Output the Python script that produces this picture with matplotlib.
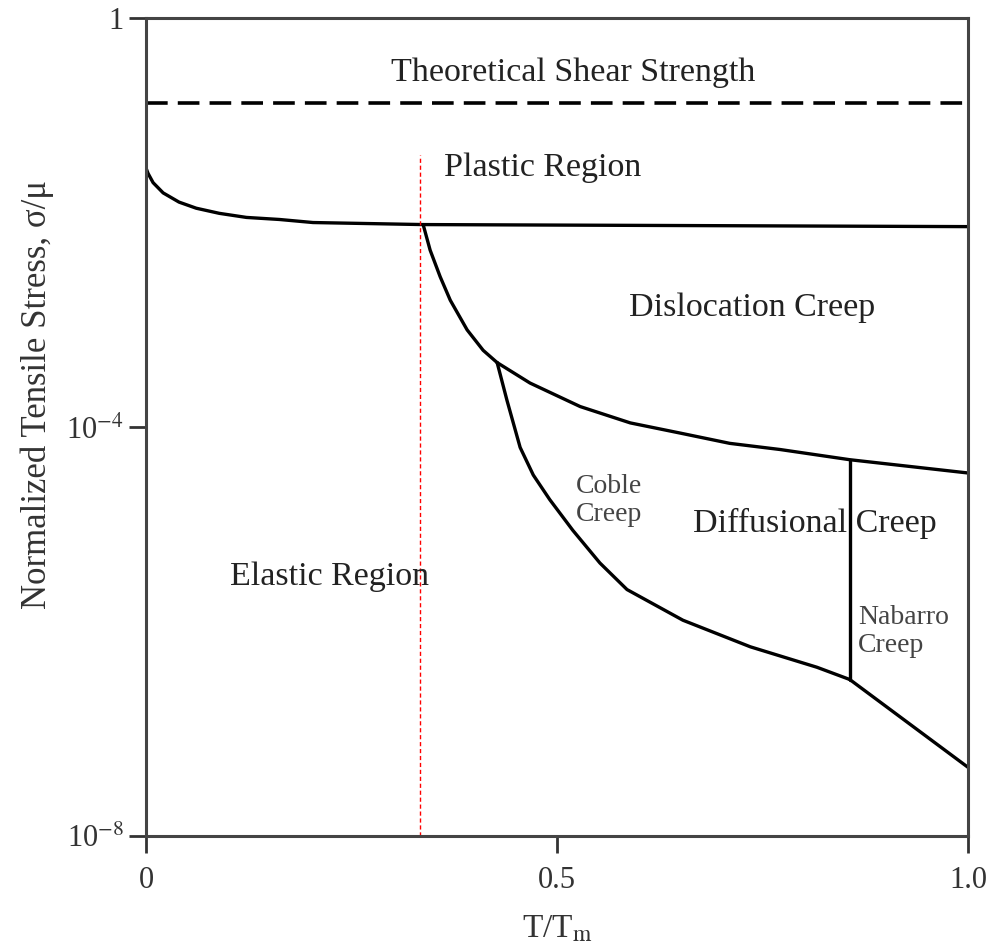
import numpy as np
import matplotlib
matplotlib.use("Agg")
import matplotlib.pyplot as plt

plt.rcParams['font.family'] = ['Liberation Serif', 'DejaVu Serif']
plt.rcParams['mathtext.fontset'] = 'stix'

# boundaries: T/Tm and log10(sigma/mu)
yield_x = [0.0, 0.0024, 0.0085, 0.0207, 0.040, 0.061, 0.089, 0.122, 0.162, 0.203, 0.337, 1.0]
yield_logs = [-1.47, -1.52, -1.61, -1.71, -1.80, -1.86, -1.91, -1.95, -1.97, -2.00, -2.02, -2.04]

disl_x = [0.337, 0.3455, 0.3577, 0.370, 0.3905, 0.410, 0.427]
disl_logs = [-2.02, -2.27, -2.53, -2.76, -3.05, -3.25, -3.37]

diff_top_x = [0.427, 0.467, 0.528, 0.589, 0.650, 0.710, 0.771, 0.856, 1.0]
diff_top_logs = [-3.37, -3.57, -3.80, -3.96, -4.06, -4.16, -4.22, -4.32, -4.45]

coble_x = [0.427, 0.439, 0.455, 0.471, 0.491, 0.519, 0.552, 0.585, 0.653, 0.735, 0.816, 0.856]
coble_logs = [-3.37, -3.74, -4.20, -4.47, -4.71, -5.01, -5.33, -5.59, -5.89, -6.15, -6.35, -6.47]

nab_x = [0.856, 1.0]
nab_logs = [-6.47, -7.33]

nab_split_x = 0.856
shear_log = -0.83
tm_third = 1/3

xticks = [0, 0.5, 1.0]
xticklabels = ['0', '0.5', '1.0']
yticks = [1, 1e-4, 1e-8]
yticklabels = ['1', r'10$^{-4}$', r'10$^{-8}$']

fig = plt.figure(figsize=(9.94, 9.51), dpi=100)
ax = fig.add_axes([0.147, 0.121, 0.827, 0.860])
ax.set_yscale('log')
ax.set_xlim(0, 1)
ax.set_ylim(1e-8, 1)

lw = 2.4
k = 'black'
kw = dict(color=k, lw=lw, solid_joinstyle='round', solid_capstyle='round')
ax.plot(yield_x, 10**np.array(yield_logs), **kw)
ax.plot(disl_x, 10**np.array(disl_logs), **kw)
ax.plot(diff_top_x, 10**np.array(diff_top_logs), **kw)
ax.plot(coble_x, 10**np.array(coble_logs), **kw)
ax.plot(nab_x, 10**np.array(nab_logs), **kw)
ax.plot([nab_split_x, nab_split_x], [10**diff_top_logs[7], 10**coble_logs[-1]], **kw)
ax.axhline(10**shear_log, color=k, lw=2.6, dashes=(6, 2.8))
ax.plot([tm_third, tm_third], [1e-8, 10**-1.34], color='red', lw=1.0, dashes=(3, 2))

fs = 24.5
ax.text(0.52, 10**-0.53, 'Theoretical Shear Strength', fontsize=fs, ha='center', va='center', color='#222')
ax.text(0.362, 10**-1.46, 'Plastic Region', fontsize=fs, ha='left', va='center', color='#222')
ax.text(0.737, 10**-2.83, 'Dislocation Creep', fontsize=fs, ha='center', va='center', color='#222')
ax.text(0.523, 10**-4.72, 'Coble\nCreep', fontsize=20, ha='left', va='center', color='#444', linespacing=1.15)
ax.text(0.665, 10**-4.94, 'Diffusional Creep', fontsize=fs, ha='left', va='center', color='#222')
ax.text(0.223, 10**-5.46, 'Elastic Region', fontsize=fs, ha='center', va='center', color='#222')
ax.text(0.866, 10**-6.0, 'Nabarro\nCreep', fontsize=20, ha='left', va='center', color='#444', linespacing=1.15)

ax.set_xticks(xticks)
ax.set_xticklabels(xticklabels)
ax.set_yticks(yticks)
ax.set_yticklabels(yticklabels)
ax.minorticks_off()
ax.tick_params(labelsize=22, length=12, width=2, colors='#333', labelcolor='#333')
ax.tick_params(axis='x', pad=10)
ax.tick_params(axis='y', pad=4)
ax.set_xlabel(r'T/T$_{\rm m}$', fontsize=24, color='#333', labelpad=13)
ax.set_ylabel(u'Normalized Tensile Stress, \u03c3/\u03bc', fontsize=25, color='#333')
ax.yaxis.set_label_coords(-0.112, 0.54)
for s in ax.spines.values():
    s.set_linewidth(2.2)
    s.set_color('#444')

fig.savefig('out.png', dpi=100)
